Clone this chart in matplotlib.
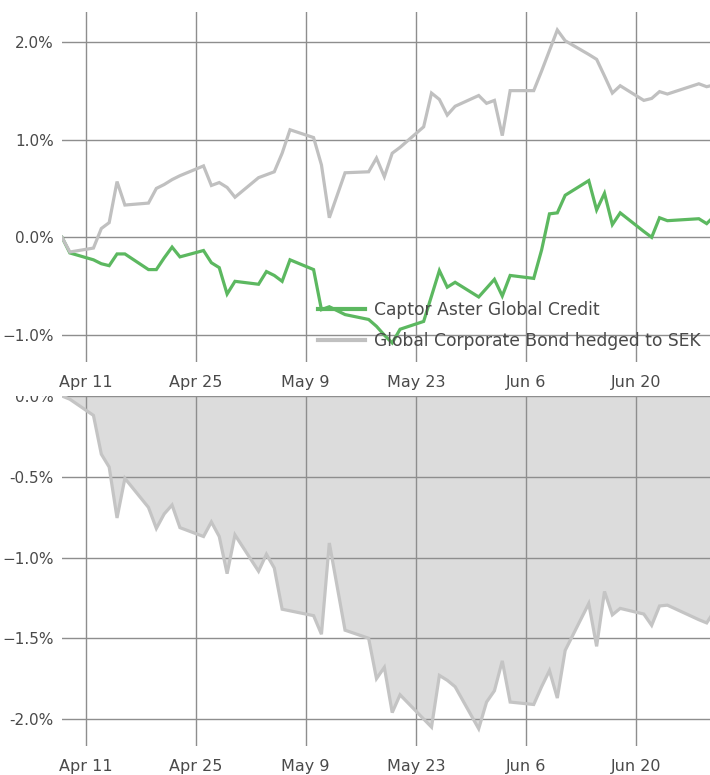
import matplotlib
matplotlib.use("Agg")
import matplotlib.pyplot as plt
import matplotlib.dates as mdates
from matplotlib.lines import Line2D
from matplotlib.transforms import Bbox, TransformedBbox
import pandas as pd

# ---------------- data ----------------
dates = [
    "2021-04-08", "2021-04-09",
    "2021-04-12", "2021-04-13", "2021-04-14", "2021-04-15", "2021-04-16",
    "2021-04-19", "2021-04-20", "2021-04-21", "2021-04-22", "2021-04-23",
    "2021-04-26", "2021-04-27", "2021-04-28", "2021-04-29", "2021-04-30",
    "2021-05-03", "2021-05-04", "2021-05-05", "2021-05-06", "2021-05-07",
    "2021-05-10", "2021-05-11", "2021-05-12", "2021-05-14",
    "2021-05-17", "2021-05-18", "2021-05-19", "2021-05-20", "2021-05-21",
    "2021-05-24", "2021-05-25", "2021-05-26", "2021-05-27", "2021-05-28",
    "2021-05-31", "2021-06-01", "2021-06-02", "2021-06-03", "2021-06-04",
    "2021-06-07", "2021-06-08", "2021-06-09", "2021-06-10", "2021-06-11",
    "2021-06-14", "2021-06-15", "2021-06-16", "2021-06-17", "2021-06-18",
    "2021-06-21", "2021-06-22", "2021-06-23", "2021-06-24",
    "2021-06-28", "2021-06-29", "2021-06-30",
]

fund = [
    0.00, -0.16,
    -0.23, -0.27, -0.29, -0.17, -0.17,
    -0.33, -0.33, -0.21, -0.10, -0.20,
    -0.135, -0.26, -0.31, -0.58, -0.45,
    -0.48, -0.35, -0.39, -0.45, -0.23,
    -0.33, -0.74, -0.71, -0.79,
    -0.84, -0.91, -1.00, -1.08, -0.94,
    -0.86, -0.60, -0.34, -0.51, -0.46,
    -0.61, -0.52, -0.43, -0.60, -0.39,
    -0.42, -0.13, 0.24, 0.25, 0.43,
    0.58, 0.28, 0.45, 0.13, 0.25,
    0.06, 0.00, 0.20, 0.17,
    0.19, 0.14, 0.22,
]

benchmark = [
    0.00, -0.15,
    -0.11, 0.09, 0.15, 0.57, 0.33,
    0.35, 0.50, 0.54, 0.59, 0.63,
    0.73, 0.53, 0.56, 0.51, 0.41,
    0.61, 0.64, 0.67, 0.86, 1.10,
    1.02, 0.74, 0.20, 0.66,
    0.67, 0.81, 0.62, 0.86, 0.92,
    1.13, 1.475, 1.41, 1.25, 1.34,
    1.45, 1.37, 1.40, 1.04, 1.50,
    1.50, 1.70, 1.91, 2.12, 2.01,
    1.87, 1.82, 1.65, 1.475, 1.55,
    1.40, 1.42, 1.49, 1.465,
    1.57, 1.54, 1.56,
]

relative = [
    0.00, -0.02,
    -0.12, -0.36, -0.44, -0.755, -0.51,
    -0.69, -0.82, -0.73, -0.675, -0.815,
    -0.87, -0.78, -0.87, -1.10, -0.86,
    -1.085, -0.98, -1.065, -1.32, -1.33,
    -1.36, -1.475, -0.91, -1.45,
    -1.50, -1.75, -1.68, -1.96, -1.85,
    -2.00, -2.05, -1.73, -1.76, -1.80,
    -2.06, -1.895, -1.825, -1.64, -1.895,
    -1.91, -1.80, -1.70, -1.87, -1.575,
    -1.285, -1.55, -1.21, -1.355, -1.315,
    -1.35, -1.42, -1.30, -1.295,
    -1.385, -1.405, -1.33,
]

series_names = ["Captor Aster Global Credit", "Global Corporate Bond hedged to SEK"]

tick_dates = ["2021-04-11", "2021-04-25", "2021-05-09", "2021-05-23", "2021-06-06", "2021-06-20"]
tick_labels = ["Apr 11", "Apr 25", "May 9", "May 23", "Jun 6", "Jun 20"]

top_yticks = [2.0, 1.0, 0.0, -1.0]
top_ylabels = ["2.0%", "1.0%", "0.0%", "\u22121.0%"]
bot_yticks = [0.0, -0.5, -1.0, -1.5, -2.0]
bot_ylabels = ["0.0%", "-0.5%", "\u22121.0%", "\u22121.5%", "-2.0%"]

# ---------------- style ----------------
W, H = 710, 775
TEXT = "#4a4a4a"
GRID = "#8e8e8e"
GREEN = "#5cb860"
GREY = "#c0c0c0"
FILL = "#dcdcdc"
RELLINE = "#c4c4c4"
FS_X = 11.5
FS_Y = 11
FS_LEG = 12.3

plt.rcParams["font.family"] = ["DejaVu Sans"]

x = mdates.date2num(pd.to_datetime(dates))
xt = mdates.date2num(pd.to_datetime(tick_dates))
x_left = mdates.date2num(pd.Timestamp("2021-04-08"))
x_right = mdates.date2num(pd.Timestamp("2021-04-11")) + 79.42

fig = plt.figure(figsize=(W / 100, H / 100), dpi=100)
ax1 = fig.add_axes([62 / W, 1 - 362 / H, 648 / W, 350 / H])
ax2 = fig.add_axes([62 / W, 1 - 746 / H, 648 / W, 350 / H])

def style(ax, yt, yl):
    for s in ax.spines.values():
        s.set_visible(False)
    ax.set_xlim(x_left, x_right)
    ax.set_xticks(xt, tick_labels)
    ax.set_yticks(yt, yl)
    ax.grid(True, color=GRID, lw=1.0)
    ax.tick_params(axis="both", length=0, labelcolor=TEXT)
    ax.tick_params(axis="y", pad=6, labelsize=FS_Y)
    ax.tick_params(axis="x", pad=9.5, labelsize=FS_X)

# top chart
style(ax1, top_yticks, top_ylabels)
ax1.set_ylim(-1.275, 2.304)
ax1.plot(x, fund, color=GREEN, lw=2.3, zorder=3, solid_joinstyle="miter")
ax1.plot(x, benchmark, color=GREY, lw=2.3, zorder=3, solid_joinstyle="miter")

handles = [Line2D([], [], color=GREEN, lw=3.0), Line2D([], [], color=GREY, lw=3.0)]
leg = ax1.legend(handles, series_names, loc="upper left",
                 bbox_to_anchor=(318 / W, 1 - 301 / H), bbox_transform=fig.transFigure,
                 frameon=False, fontsize=FS_LEG, handlelength=2.75, handletextpad=0.5,
                 labelspacing=0.78, borderpad=0, borderaxespad=0)
for t in leg.get_texts():
    t.set_color(TEXT)

# bottom chart
style(ax2, bot_yticks, bot_ylabels)
ax2.set_ylim(-2.167, 0.0)
ax2.fill_between(x, relative, 0, color=FILL, lw=0, zorder=1)
ax2.plot(x, relative, color=RELLINE, lw=2.3, zorder=2, solid_joinstyle="miter")

clip = TransformedBbox(Bbox.from_extents(0, 0, 1, 1 - 396 / H), fig.transFigure)
for lbl in ax2.get_yticklabels():
    if lbl.get_text() == "0.0%":
        lbl.set_clip_on(True)
        lbl.set_clip_box(clip)

fig.savefig("out.png", dpi=100)
